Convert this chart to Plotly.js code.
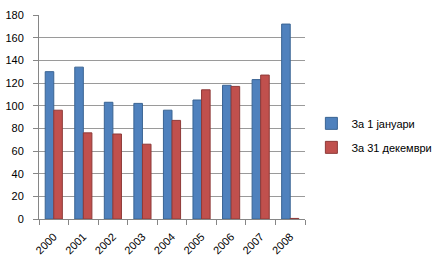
<!DOCTYPE html>
<html>
<head>
<meta charset="utf-8">
<script src="https://cdn.plot.ly/plotly-3.0.1.min.js"></script>
<style>html,body{margin:0;padding:0;background:#fff}#chart{width:438px;height:268px}</style>
</head>
<body>
<div id="chart"></div>
<script>
var years = ['2000','2001','2002','2003','2004','2005','2006','2007','2008'];
var jan1 = [130, 134, 103, 102, 96, 105, 118, 123, 172];
var dec31 = [96, 76, 75, 66, 87, 114, 117, 127, 0.5];
var seriesNames = ['За 1 јануари', 'За 31 декември'];
var yTicks = [0, 20, 40, 60, 80, 100, 120, 140, 160, 180];

var data = [
  {type: 'bar', x: years, y: jan1, name: seriesNames[0], legendgroup: 'a',
   marker: {color: '#4F81BD', line: {color: '#3A6493', width: 1}}},
  {type: 'bar', x: years, y: dec31, name: seriesNames[1], legendgroup: 'b',
   marker: {color: '#C0504D', line: {color: '#8E3A38', width: 1}}}
];

var layout = {
  width: 438, height: 268,
  margin: {l: 39, r: 133, t: 15, b: 49, autoexpand: false},
  paper_bgcolor: '#fff', plot_bgcolor: '#fff',
  barmode: 'group', bargap: 0.42, bargroupgap: 0,
  font: {family: 'Liberation Sans, Arial, sans-serif', size: 11, color: '#000'},
  xaxis: {
    type: 'category', tickangle: -45, tickson: 'boundaries',
    ticks: 'outside', ticklen: 5, tickcolor: '#868686',
    ticklabelstandoff: 6,
    showline: true, linecolor: '#868686', linewidth: 1,
    showgrid: false, tickfont: {size: 11, color: '#000'}
  },
  yaxis: {
    range: [0, 180], tickvals: yTicks, ticktext: yTicks.map(String),
    ticks: 'outside', ticklen: 5, tickcolor: '#868686',
    ticklabelstandoff: 7,
    showline: true, linecolor: '#868686', linewidth: 1,
    showgrid: true, gridcolor: '#9a9a9a', gridwidth: 1,
    zeroline: false, tickfont: {size: 11, color: '#000'}
  },
  showlegend: true,
  legend: {
    x: 1.024, xanchor: 'left', y: 0.41, yanchor: 'middle',
    traceorder: 'grouped', tracegroupgap: 5,
    font: {size: 11, color: '#000'}, itemwidth: 30,
    bgcolor: 'rgba(0,0,0,0)'
  }
};

Plotly.newPlot('chart', data, layout, {displayModeBar: false, staticPlot: true});
</script>
</body>
</html>
